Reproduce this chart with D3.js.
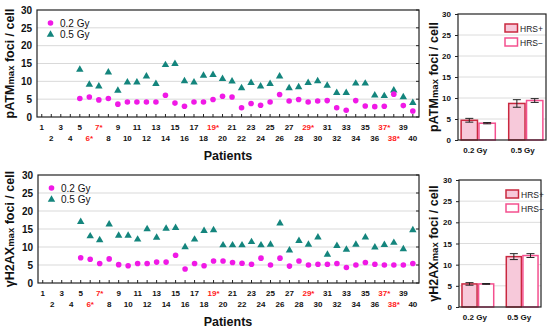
<!DOCTYPE html>
<html><head><meta charset="utf-8">
<script src="https://cdn.jsdelivr.net/npm/d3@7"></script>
<style>body{margin:0;background:#fff}svg{display:block}text{font-family:"Liberation Sans",Arial,sans-serif}</style>
</head><body>
<script>
const patients = d3.range(1, 41);
const redPatients = [6, 7, 19, 29, 37, 38];
// pATM max foci per cell (patients 5..40)
const patm02 = [5.2,5.6,4.8,5.2,3.6,4.2,4.2,4.2,4.2,6.1,3.9,3.0,4.2,4.2,4.9,5.8,5.6,2.6,3.8,3.3,4.2,6.3,4.5,4.9,4.2,4.5,4.6,2.6,1.9,4.6,3.1,2.9,3.0,6.4,3.2,1.7];
const patm05 = [13.3,9.1,8.6,12.5,7.4,9.7,9.7,11.4,9.3,14.6,14.9,10.1,9.7,11.6,11.8,10.7,10.0,8.1,9.6,8.6,9.3,11.4,8.1,8.4,9.6,10.1,8.8,6.8,6.8,9.4,9.4,6.1,5.9,7.5,5.6,4.0];
// γH2AX max foci per cell (patients 5..40)
const h2ax02 = [7.0,6.6,5.4,6.7,5.1,4.8,5.4,5.4,5.8,5.8,7.7,3.9,5.4,4.8,6.1,6.1,5.7,5.5,5.2,6.9,5.0,6.9,4.7,6.1,5.0,5.2,5.2,5.4,4.3,5.0,5.7,5.2,5.0,5.0,5.0,5.4];
const h2ax05 = [17.0,13.0,11.9,16.3,13.2,13.2,12.1,15.0,12.6,15.1,15.3,10.0,12.1,14.5,14.7,10.5,10.5,10.5,11.4,10.5,10.7,16.6,9.1,11.7,10.7,12.7,7.9,10.3,9.3,10.7,12.7,9.9,10.6,11.2,9.4,14.7];
const firstPatient = 5;
const yTicks = [0,5,10,15,20,25,30];
const doses = ["0.2 Gy","0.5 Gy"];
const groups = ["HRS+","HRS\u2212"];
const patmMean = {"HRS+":[4.7,8.7], "HRS\u2212":[4.0,9.4]};
const patmErr  = {"HRS+":[0.45,0.9], "HRS\u2212":[0.15,0.45]};
const h2axMean = {"HRS+":[5.45,11.9], "HRS\u2212":[5.45,12.15]};
const h2axErr  = {"HRS+":[0.3,0.7], "HRS\u2212":[0.1,0.45]};

const C02 = "#f019e6", C05 = "#14857d";
const svg = d3.select("body").append("svg").attr("width",550).attr("height",331);

function yTitle(g, x, y, base){
  const t = g.append("text").attr("transform",`translate(${x},${y}) rotate(-90)`)
    .attr("text-anchor","middle").attr("font-weight","bold").attr("font-size",12.5).attr("fill","#111");
  t.append("tspan").text(base);
  t.append("tspan").attr("font-size",9.5).text("max");
  t.append("tspan").text(" foci / cell");
}

function scatter(top, bottom, left, right, d02, d05, base, patY){
  const g = svg.append("g");
  const x = d3.scaleLinear().domain([0.5,40.65]).range([left,right]);
  const y = d3.scaleLinear().domain([0,30]).range([bottom,top]);
  g.selectAll(".gl").data(yTicks.slice(1,-1)).join("line")
    .attr("x1",left).attr("x2",right).attr("y1",d=>y(d)).attr("y2",d=>y(d))
    .attr("stroke","#d9d9d9").attr("stroke-width",1);
  g.append("rect").attr("x",left).attr("y",top).attr("width",right-left).attr("height",bottom-top)
    .attr("fill","none").attr("stroke","#222").attr("stroke-width",1.2);
  const ya = g.append("g").attr("transform",`translate(${left},0)`)
    .call(d3.axisLeft(y).tickValues(yTicks).tickSize(0).tickPadding(5));
  ya.select(".domain").remove();
  ya.selectAll("text").attr("font-size",10).attr("font-weight","bold").attr("fill","#111").attr("font-family","Liberation Sans, Arial");
  g.selectAll(".rt").data(yTicks).join("line").attr("x1",right-3).attr("x2",right).attr("y1",d=>y(d)).attr("y2",d=>y(d)).attr("stroke","#222");
  g.selectAll(".xt").data(patients).join("line").attr("x1",d=>x(d)).attr("x2",d=>x(d))
    .attr("y1",bottom).attr("y2",bottom-3).attr("stroke","#222");
  g.selectAll(".xl").data(patients).join("text")
    .attr("x",d=>x(d)).attr("y",d=> bottom + (d%2 ? 13 : 23.5))
    .attr("text-anchor","middle").attr("font-size",8).attr("font-weight","bold")
    .attr("fill",d=>redPatients.includes(d)?"#ff1a1a":"#111")
    .text(d=>redPatients.includes(d)? d+"*" : d);
  g.append("text").attr("x",228).attr("y",patY).attr("text-anchor","middle")
    .attr("font-size",12.5).attr("font-weight","bold").attr("fill","#111").text("Patients");
  const pts02 = d02.map((v,i)=>({p:firstPatient+i,v}));
  const pts05 = d05.map((v,i)=>({p:firstPatient+i,v}));
  g.selectAll(".t").data(pts05).join("path")
    .attr("d", d3.symbol().type(d3.symbolTriangle).size(24))
    .attr("transform",d=>`translate(${x(d.p)},${y(d.v)})`).attr("fill",C05);
  g.selectAll(".c").data(pts02).join("circle")
    .attr("cx",d=>x(d.p)).attr("cy",d=>y(d.v)).attr("r",2.8).attr("fill",C02);
  const lg = g.append("g");
  lg.append("circle").attr("cx",left+13.5).attr("cy",top+13).attr("r",2.8).attr("fill",C02);
  lg.append("path").attr("d",d3.symbol().type(d3.symbolTriangle).size(24)).attr("transform",`translate(${left+13.5},${top+24.5})`).attr("fill",C05);
  lg.append("text").attr("x",left+23).attr("y",top+16.5).attr("font-size",10).attr("fill","#111").text("0.2 Gy");
  lg.append("text").attr("x",left+23).attr("y",top+28).attr("font-size",10).attr("fill","#111").text("0.5 Gy");
  yTitle(g, 14, (top+bottom)/2, base);
}

function bars(top, bottom, left, right, mean, err, base, titleX){
  const g = svg.append("g");
  const x0 = d3.scaleBand().domain(doses).range([left,right]).paddingInner(0.25).paddingOuter(0.05);
  const x1 = d3.scaleBand().domain(groups).range([0,x0.bandwidth()]);
  const y = d3.scaleLinear().domain([0,30]).range([bottom,top]);
  g.selectAll(".gl").data(yTicks.slice(1,-1)).join("line")
    .attr("x1",left).attr("x2",right).attr("y1",d=>y(d)).attr("y2",d=>y(d))
    .attr("stroke","#dcdcdc");
  const ya = g.append("g").attr("transform",`translate(${left},0)`)
    .call(d3.axisLeft(y).tickValues(yTicks).tickSize(3).tickPadding(4));
  ya.select(".domain").remove();
  ya.selectAll("line").attr("stroke","#222");
  ya.selectAll("text").attr("font-size",8).attr("font-weight","bold").attr("fill","#111").attr("font-family","Liberation Sans, Arial");
  const data = [];
  doses.forEach((d,i)=>groups.forEach(k=>data.push({dose:d,grp:k,v:mean[k][i],e:err[k][i]})));
  g.selectAll(".b").data(data).join("rect")
    .attr("x",d=>x0(d.dose)+x1(d.grp)+0.75).attr("width",x1.bandwidth()-1.5)
    .attr("y",d=>y(d.v)).attr("height",d=>bottom-y(d.v))
    .attr("fill",d=>d.grp==="HRS+"?"#f7c9da":"#fff")
    .attr("stroke",d=>d.grp==="HRS+"?"#c9283f":"#f4508f").attr("stroke-width",1.5);
  const eb = g.selectAll(".e").data(data).join("g")
    .attr("transform",d=>`translate(${x0(d.dose)+x1(d.grp)+x1.bandwidth()/2},0)`);
  eb.append("line").attr("y1",d=>y(d.v-d.e)).attr("y2",d=>y(d.v+d.e)).attr("stroke","#222");
  eb.append("line").attr("x1",-4).attr("x2",4).attr("y1",d=>y(d.v-d.e)).attr("y2",d=>y(d.v-d.e)).attr("stroke","#222");
  eb.append("line").attr("x1",-4).attr("x2",4).attr("y1",d=>y(d.v+d.e)).attr("y2",d=>y(d.v+d.e)).attr("stroke","#222");
  g.append("rect").attr("x",left).attr("y",top).attr("width",right-left).attr("height",bottom-top)
    .attr("fill","none").attr("stroke","#222").attr("stroke-width",1.2);
  g.selectAll(".xl").data(doses).join("text").attr("x",d=>x0(d)+x0.bandwidth()/2-3).attr("y",bottom+13)
    .attr("text-anchor","middle").attr("font-size",8).attr("font-weight","bold").attr("fill","#111").text(d=>d);
  groups.forEach((k,i)=>{
    g.append("rect").attr("x",left+47).attr("y",top+10+i*14).attr("width",12.5).attr("height",8)
      .attr("fill",k==="HRS+"?"#f7c9da":"#fff").attr("stroke",k==="HRS+"?"#c9283f":"#f4508f").attr("stroke-width",1.5);
    g.append("text").attr("x",left+62).attr("y",top+17.5+i*14).attr("font-size",8.5).attr("fill","#222").text(k);
  });
  yTitle(g, titleX, (top+bottom)/2, base);
}

scatter(10, 117, 37, 419, patm02, patm05, "pATM", 159.5);
scatter(175, 283, 38, 419, h2ax02, h2ax05, "\u03b3H2AX", 325.5);
bars(14, 140, 458, 546, patmMean, patmErr, "pATM", 438);
bars(180, 307, 459, 541, h2axMean, h2axErr, "\u03b3H2AX", 438);
</script>
</body></html>
